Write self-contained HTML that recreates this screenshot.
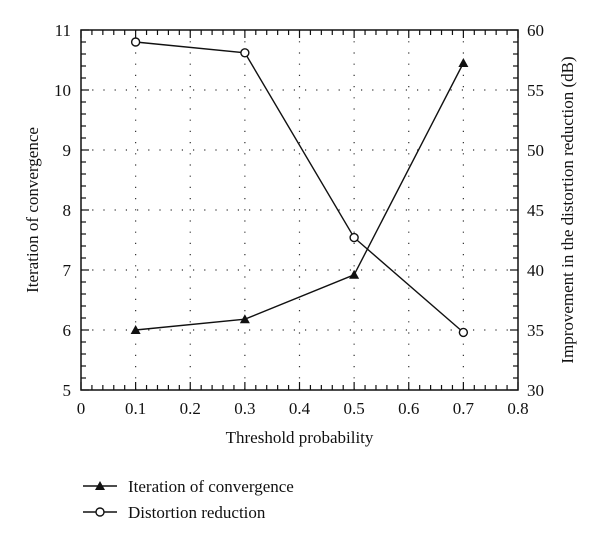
<!DOCTYPE html>
<html><head><meta charset="utf-8"><style>
body{margin:0;background:#fff;}
svg text{font-family:"Liberation Serif",serif;fill:#111;}
</style></head><body>
<svg id="c" width="600" height="541" xmlns="http://www.w3.org/2000/svg"></svg>
<script>
const xVals=[0.1,0.3,0.5,0.7];
const iterVals=[6.0,6.18,6.92,10.45];
const distVals=[59.0,58.1,42.7,34.8];
const xTicks=[0,0.1,0.2,0.3,0.4,0.5,0.6,0.7,0.8];
const yLTicks=[5,6,7,8,9,10,11];
const yRTicks=[30,35,40,45,50,55,60];
const L=81,R=518,T=30,B=390;
const sx=v=>L+(v/0.8)*(R-L);
const syL=v=>B-(v-5)/6*(B-T);
const syR=v=>B-(v-30)/30*(B-T);
const svg=document.getElementById('c');
const NS='http://www.w3.org/2000/svg';
function mk(tag,at,name,parent){const e=document.createElementNS(NS,tag);for(const k in at)e.setAttribute(k,at[k]);


(parent||svg).appendChild(e);return e;}
// grid
xTicks.slice(1,-1).forEach(v=>mk('line',{x1:sx(v),x2:sx(v),y1:T,y2:B,stroke:'#333','stroke-width':1.2,'stroke-dasharray':'1.2 10'},'x-grid-line'));
yLTicks.slice(1,-1).forEach(v=>mk('line',{x1:L,x2:R,y1:syL(v),y2:syL(v),stroke:'#333','stroke-width':1.2,'stroke-dasharray':'1.2 10'},'y-grid-line'));
// frame
mk('rect',{x:L,y:T,width:R-L,height:B-T,fill:'none',stroke:'#111','stroke-width':1.5},'plot-frame');
// minor/major ticks x
for(let i=0;i<=40;i++){const v=i*0.02,x=sx(v),len=(i%5==0)?8:5;
mk('line',{x1:x,x2:x,y1:B,y2:B-len,stroke:'#111','stroke-width':1.2},'x-tick');
mk('line',{x1:x,x2:x,y1:T,y2:T+len,stroke:'#111','stroke-width':1.2},'x-tick-top');}
for(let i=0;i<=30;i++){const y=B-i*(B-T)/30,len=(i%5==0)?8:5;
mk('line',{x1:L,x2:L+len,y1:y,y2:y,stroke:'#111','stroke-width':1.2},'y-tick-left');
mk('line',{x1:R,x2:R-len,y1:y,y2:y,stroke:'#111','stroke-width':1.2},'y-tick-right');}
xTicks.forEach(v=>{const t=mk('text',{x:sx(v),y:B+24,'text-anchor':'middle','font-size':17},'x-tick-label');t.textContent=String(v);});
yLTicks.forEach(v=>{const t=mk('text',{x:L-10,y:syL(v)+6,'text-anchor':'end','font-size':17},'y-left-tick-label');t.textContent=v;});
yRTicks.forEach(v=>{const t=mk('text',{x:R+9,y:syR(v)+6,'text-anchor':'start','font-size':17},'y-right-tick-label');t.textContent=v;});
let t=mk('text',{x:(L+R)/2,y:443,'text-anchor':'middle','font-size':17},'x-axis-title');t.textContent='Threshold probability';
t=mk('text',{transform:`translate(38,${(T+B)/2}) rotate(-90)`,'text-anchor':'middle','font-size':17},'y-left-axis-title');t.textContent='Iteration of convergence';
t=mk('text',{transform:`translate(573,${(T+B)/2}) rotate(-90)`,'text-anchor':'middle','font-size':17},'y-right-axis-title');t.textContent='Improvement in the distortion reduction (dB)';
// series
mk('polyline',{points:xVals.map((v,i)=>sx(v)+','+syL(iterVals[i])).join(' '),fill:'none',stroke:'#111','stroke-width':1.4},'iteration-line');
xVals.forEach((v,i)=>{const x=sx(v),y=syL(iterVals[i]);mk('polygon',{points:`${x},${y-5} ${x-5},${y+4} ${x+5},${y+4}`,fill:'#111'},'iteration-marker');});
mk('polyline',{points:xVals.map((v,i)=>sx(v)+','+syR(distVals[i])).join(' '),fill:'none',stroke:'#111','stroke-width':1.4},'distortion-line');
xVals.forEach((v,i)=>mk('circle',{cx:sx(v),cy:syR(distVals[i]),r:4,fill:'#fff',stroke:'#111','stroke-width':1.4},'distortion-marker'));
// legend
const lg=mk('g',{},'legend');
mk('line',{x1:83,x2:117,y1:486,y2:486,stroke:'#111','stroke-width':1.4},'legend-iteration-line',lg);
mk('polygon',{points:'100,481 95,490 105,490',fill:'#111'},'legend-iteration-marker',lg);
t=mk('text',{x:128,y:492,'font-size':17},'legend-iteration-label',lg);t.textContent='Iteration of convergence';
mk('line',{x1:83,x2:117,y1:512,y2:512,stroke:'#111','stroke-width':1.4},'legend-distortion-line',lg);
mk('circle',{cx:100,cy:512,r:4,fill:'#fff',stroke:'#111','stroke-width':1.4},'legend-distortion-marker',lg);
t=mk('text',{x:128,y:518,'font-size':17},'legend-distortion-label',lg);t.textContent='Distortion reduction';
</script>
</body></html>
